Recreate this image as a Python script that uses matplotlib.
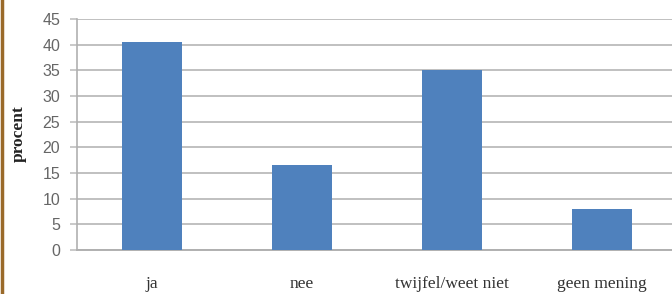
import matplotlib
matplotlib.use("Agg")
import matplotlib.pyplot as plt
from matplotlib.lines import Line2D

categories = ["ja", "nee", "twijfel/weet niet", "geen mening"]
values = [40.5, 16.5, 35.0, 8.0]
yticks = [0, 5, 10, 15, 20, 25, 30, 35, 40, 45]

W, H = 672, 294
fig = plt.figure(figsize=(W / 100, H / 100), dpi=100)
fig.patch.set_facecolor("white")

ax = fig.add_axes([77 / W, 1 - 250 / H, 1 - 77 / W, (250 - 19) / H])
ax.set_facecolor("white")
ax.bar(range(len(categories)), values, width=0.395, color="#4f81bd", zorder=3)
ax.set_xlim(-0.5, -0.5 + (W - 77) / 150)
ax.set_ylim(0, 45)
ax.set_yticks(yticks)
ax.set_yticklabels([str(v) for v in yticks], fontsize=11.5, color="#666666",
                   family="Liberation Sans")
ax.yaxis.grid(True, color="#c0c0c0", linewidth=1.4, zorder=0)
ax.set_xticks(range(len(categories)))
ax.set_xticklabels(categories, fontsize=12.5, color="#333333", family="Liberation Serif")
ax.tick_params(axis="x", length=0, pad=19)
ax.tick_params(axis="y", length=5, color="#c0c0c0", width=1.2, pad=7)
for s in ["top", "right"]:
    ax.spines[s].set_visible(False)
ax.spines["left"].set_color("#b0b0b0")
ax.spines["left"].set_linewidth(1.2)
ax.spines["bottom"].set_color("#b0b0b0")
ax.spines["bottom"].set_linewidth(1.4)
ax.set_ylabel("procent", fontsize=12.5, fontweight="bold", family="Liberation Serif",
              color="#222222")
ax.yaxis.set_label_coords((27 - 77) / (W - 77), (250 - 134) / (250 - 19))

# brown left frame line
fig.add_artist(Line2D([1.5 / W, 1.5 / W], [0, 1], color="#9a6a2a", linewidth=2.5,
                      transform=fig.transFigure))

fig.savefig("out.png", dpi=100, facecolor="white")
